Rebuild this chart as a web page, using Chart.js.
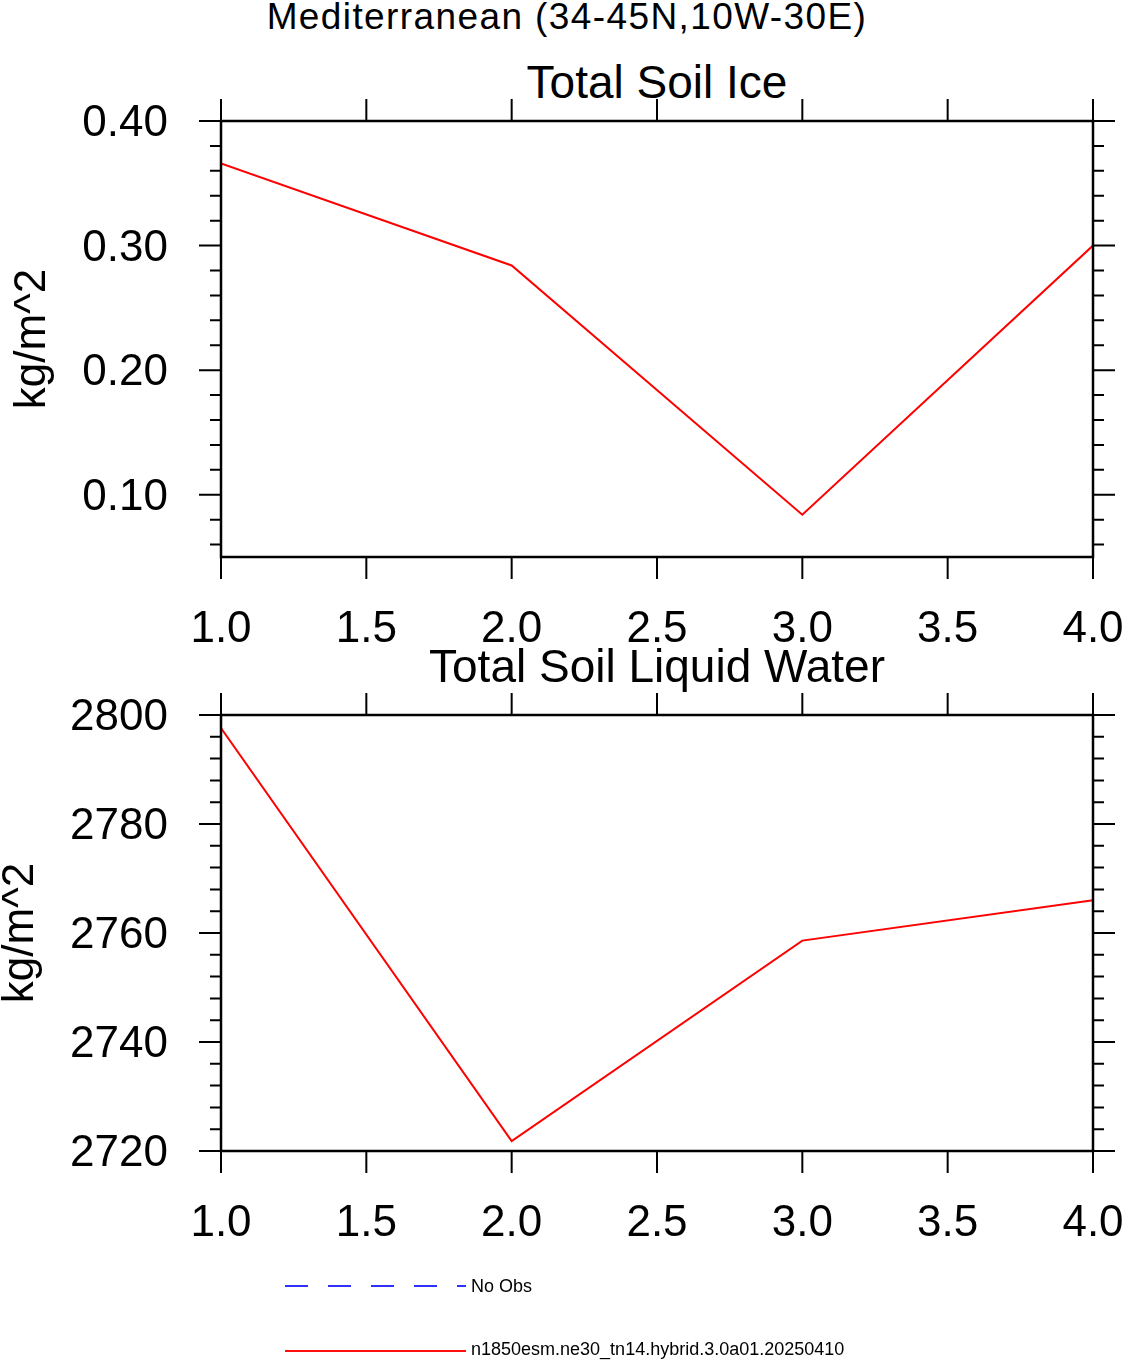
<!DOCTYPE html>
<html>
<head>
<meta charset="utf-8">
<script src="https://cdn.jsdelivr.net/npm/chart.js@4/dist/chart.umd.min.js"></script>
<style>
  body { margin: 0; background: #fff; }
  #page { position: relative; width: 1123px; height: 1360px; overflow: hidden; font-family: "Liberation Sans", Arial, sans-serif; color: #000; }
  .txt { position: absolute; white-space: nowrap; line-height: 1; }
  canvas { position: absolute; }
</style>
</head>
<body>
<div id="page">
  <div class="txt" id="mainTitle" style="left:0;width:1134px;top:-2px;font-size:37px;letter-spacing:1.4px;text-align:center;">Mediterranean (34-45N,10W-30E)</div>
  <div class="txt" style="left:0;width:1314px;top:59px;font-size:46px;text-align:center;">Total Soil Ice</div>
  <canvas id="chartIce" width="1123" height="650" style="left:0;top:0;"></canvas>
  <div class="txt" style="left:0;width:1314px;top:643px;font-size:46px;text-align:center;">Total Soil Liquid Water</div>
  <canvas id="chartLiq" width="1135" height="650" style="left:-12px;top:600px;"></canvas>
  <svg width="1123" height="1360" style="position:absolute;left:0;top:0;pointer-events:none;">
    <line x1="285" y1="1286" x2="466" y2="1286" stroke="#3030ff" stroke-width="1.8" stroke-dasharray="23 20"/>
    <line x1="285" y1="1351" x2="466" y2="1351" stroke="#ff1010" stroke-width="1.8"/>
  </svg>
  <div class="txt" style="left:471px;top:1276px;font-size:18px;line-height:20px;">No Obs</div>
  <div class="txt" style="left:471px;top:1339px;font-size:18px;line-height:20px;">n1850esm.ne30_tn14.hybrid.3.0a01.20250410</div>
</div>
<script>
// years / x positions
const xVals = [1, 2, 3, 4];
const xTicks = [1.0, 1.5, 2.0, 2.5, 3.0, 3.5, 4.0];

// Total Soil Ice (kg/m^2)
const iceVals = [0.366, 0.284, 0.084, 0.300];
const iceMajor = [0.10, 0.20, 0.30, 0.40];
const iceMinor = [0.06, 0.08, 0.12, 0.14, 0.16, 0.18, 0.22, 0.24, 0.26, 0.28, 0.32, 0.34, 0.36, 0.38];

// Total Soil Liquid Water (kg/m^2)
const liqVals = [2797.6, 2721.8, 2758.6, 2766.0];
const liqMajor = [2720, 2740, 2760, 2780, 2800];
const liqMinor = [2724, 2728, 2732, 2736, 2744, 2748, 2752, 2756, 2764, 2768, 2772, 2776, 2784, 2788, 2792, 2796];

const FONT = "'Liberation Sans', Arial, sans-serif";
const MAJOR_LEN = 22;
const MINOR_LEN = 11;

// NCL-style frame with outward ticks on all four sides
const frameTicks = {
    id: 'frameTicks',
    afterDraw(chart) {
        const {ctx, chartArea: a} = chart;
        const x = chart.scales.x, y = chart.scales.y;
        ctx.save();
        ctx.strokeStyle = '#000';
        ctx.lineWidth = 2;
        ctx.beginPath();
        x.ticks.forEach(t => {
            const px = x.getPixelForValue(t.value);
            ctx.moveTo(px, a.bottom); ctx.lineTo(px, a.bottom + MAJOR_LEN);
            ctx.moveTo(px, a.top); ctx.lineTo(px, a.top - MAJOR_LEN);
        });
        y.ticks.forEach(t => {
            const py = y.getPixelForValue(t.value);
            const len = t.major ? MAJOR_LEN : MINOR_LEN;
            ctx.moveTo(a.left, py); ctx.lineTo(a.left - len, py);
            ctx.moveTo(a.right, py); ctx.lineTo(a.right + len, py);
        });
        ctx.stroke();
        ctx.lineWidth = 2.5;
        ctx.strokeRect(a.left, a.top, a.right - a.left, a.bottom - a.top);
        ctx.restore();
    }
};

function makePanel(canvasId, values, yMin, yMax, major, minor, decimals, opts) {
    const ctx = document.getElementById(canvasId).getContext("2d");
    return new Chart(ctx, {
        type: "line",
        data: {
            datasets: [{
                data: xVals.map((v, i) => ({x: v, y: values[i]})),
                borderColor: "#ff0000",
                borderWidth: 2,
                pointRadius: 0,
                tension: 0,
                fill: false
            }]
        },
        options: {
            responsive: false,
            animation: false,
            devicePixelRatio: 1,
            layout: {padding: {top: opts.padTop, right: 30, left: 0, bottom: 0}},
            plugins: {legend: {display: false}, tooltip: {enabled: false}},
            scales: {
                x: {
                    type: "linear",
                    min: 1, max: 4,
                    grid: {display: false},
                    border: {display: false},
                    afterBuildTicks: (s) => { s.ticks = xTicks.map(v => ({value: v, major: true})); },
                    afterFit: (s) => { s.height = opts.xHeight; s.paddingLeft = 0; s.paddingRight = 0; },
                    ticks: {
                        autoSkip: false,
                        maxRotation: 0,
                        padding: opts.xPad,
                        color: "#000",
                        font: {family: FONT, size: 44},
                        callback: (v) => Number(v).toFixed(1)
                    }
                },
                y: {
                    min: yMin, max: yMax,
                    grid: {display: false},
                    border: {display: false},
                    afterBuildTicks: (s) => {
                        const all = major.map(v => ({value: v, major: true}))
                            .concat(minor.map(v => ({value: v, major: false})));
                        all.sort((p, q) => p.value - q.value);
                        s.ticks = all;
                    },
                    afterFit: (s) => { s.width = opts.yWidth; },
                    title: {
                        display: true,
                        text: "kg/m^2",
                        color: "#000",
                        font: {family: FONT, size: 44},
                        padding: {top: 6, bottom: 0}
                    },
                    ticks: {
                        autoSkip: false,
                        padding: 45,
                        labelOffset: 3,
                        color: "#000",
                        font: {family: FONT, size: 44},
                        callback: (v, i, ticks) => ticks[i].major ? Number(v).toFixed(decimals) : ""
                    }
                }
            }
        },
        plugins: [frameTicks]
    });
}

var chartIce = makePanel("chartIce", iceVals, 0.05, 0.40, iceMajor, iceMinor, 2,
    {padTop: 121, xHeight: 93, xPad: 38, yWidth: 221});
var chartLiq = makePanel("chartLiq", liqVals, 2720, 2800, liqMajor, liqMinor, 0,
    {padTop: 115, xHeight: 99, xPad: 38, yWidth: 233});
</script>
</body>
</html>
